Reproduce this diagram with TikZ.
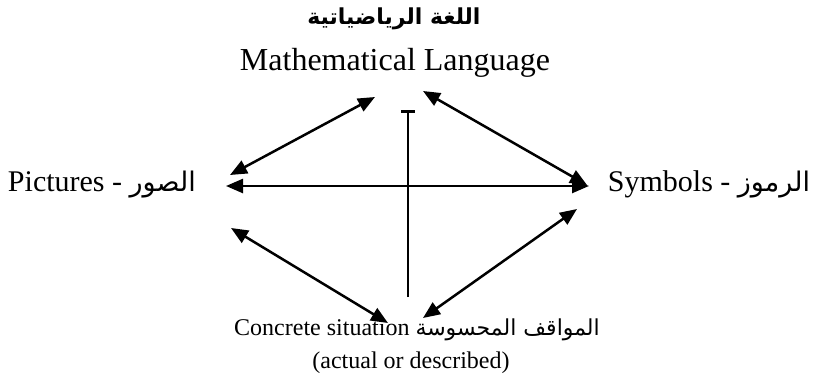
\documentclass[tikz,border=0pt]{standalone}
\usepackage{fontspec}
\setmainfont{Liberation Serif}
\newfontfamily\arabicfont[Script=Arabic]{DejaVu Sans}
\TeXXeTstate=1
\usetikzlibrary{arrows.meta}
\newcommand{\artxt}[1]{{\arabicfont\beginR #1\endR}}
\begin{document}
\begin{tikzpicture}[x=1pt,y=-1pt,
  lbl/.style={inner sep=0pt, outer sep=0pt},
  link/.style={line width=2.5pt, {Triangle[length=17pt,width=14pt]}-{Triangle[length=17pt,width=14pt]}},
  stem/.style={line width=2.5pt, -{Bar[width=14pt,line width=3pt]}},
]
\useasboundingbox (0,0) rectangle (814,388);
% texts
\node[lbl, anchor=base] (arTitle) at (394,24) {\fontsize{22}{26}\selectfont\artxt{\bfseries اللغة الرياضياتية}};
\node[lbl, anchor=base] (math) at (395,70) {\fontsize{32}{36}\selectfont Mathematical Language};
\node[lbl, anchor=base west] (pic) at (8,191) {\fontsize{30}{34}\selectfont Pictures - {\fontsize{27}{32}\selectfont\artxt{الصور}}};
\node[lbl, anchor=base east] (sym) at (810,191) {\fontsize{30}{34}\selectfont Symbols - {\fontsize{27}{32}\selectfont\artxt{الرموز}}};
\node[lbl, anchor=base] (conc) at (417,335) {\fontsize{24}{28}\selectfont Concrete situation {\fontsize{22}{26}\selectfont\artxt{المواقف المحسوسة}}};
\node[lbl, anchor=base] (act) at (411,368) {\fontsize{24}{28}\selectfont (actual or described)};
% connector end points
\coordinate (pA) at (230,175);
\coordinate (mA) at (375,97);
\coordinate (mB) at (423,91);
\coordinate (sB) at (587,185);
\coordinate (pH) at (226,186);
\coordinate (sH) at (589,186);
\coordinate (pC) at (231,228);
\coordinate (cC) at (388,323);
\coordinate (sD) at (577,209);
\coordinate (cD) at (423,318);
\coordinate (vB) at (408,297);
\coordinate (vT) at (408,110);
% connectors
\draw[link] (pA) -- (mA);
\draw[link] (mB) -- (sB);
\draw[link] (pH) -- (sH);
\draw[link] (pC) -- (cC);
\draw[link] (sD) -- (cD);
\draw[stem] (vB) -- (vT);
\end{tikzpicture}
\end{document}
